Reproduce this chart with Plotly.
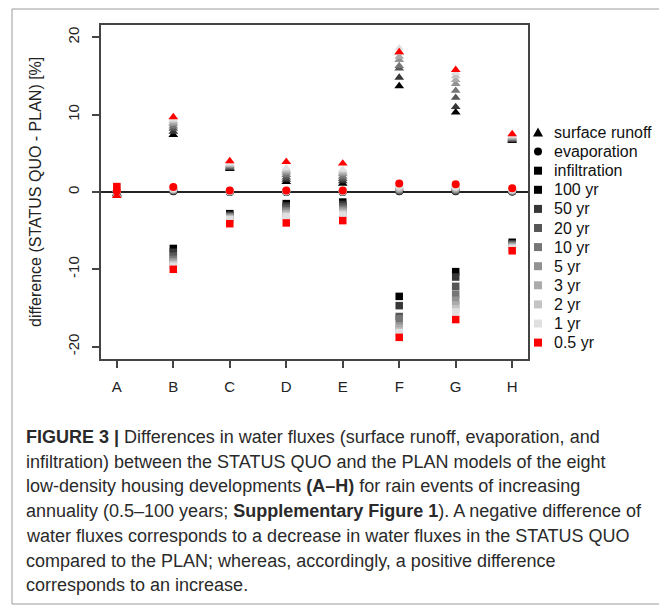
import plotly.graph_objects as go

sites = ["A", "B", "C", "D", "E", "F", "G", "H"]
years = ["100 yr", "50 yr", "20 yr", "10 yr", "5 yr", "3 yr", "2 yr", "1 yr", "0.5 yr"]
year_colors = ["#000000", "#373737", "#575757", "#767676", "#929292",
               "#ababab", "#c4c4c4", "#e0e0e0", "#ff0000"]
y_ticks = [-20, -10, 0, 10, 20]
y_tick_labels = ["-20", "-10", "0", "10", "20"]

# rows follow 'years', columns follow 'sites'
surface_runoff = [
    [-0.2, 7.4, 3.0, 1.3, 1.1, 13.7, 10.3, 6.6],
    [-0.25, 7.8, 3.1, 1.6, 1.4, 14.8, 11.0, 6.7],
    [-0.3, 8.2, 3.2, 1.9, 1.7, 16.0, 12.2, 6.8],
    [-0.3, 8.5, 3.3, 2.2, 2.0, 16.3, 13.1, 6.9],
    [-0.35, 8.8, 3.4, 2.5, 2.3, 17.1, 14.0, 7.0],
    [-0.4, 9.0, 3.5, 2.7, 2.5, 17.5, 14.5, 7.1],
    [-0.4, 9.2, 3.6, 2.9, 2.7, 18.0, 15.0, 7.2],
    [-0.45, 9.4, 3.7, 3.1, 2.9, 18.6, 15.4, 7.3],
    [-0.5, 9.7, 4.0, 3.9, 3.7, 18.1, 15.8, 7.5],
]
evaporation = [
    [0.1, 0.1, 0.0, 0.0, 0.0, 0.1, 0.1, 0.05],
    [0.1, 0.15, 0.02, 0.02, 0.02, 0.15, 0.15, 0.08],
    [0.1, 0.2, 0.04, 0.04, 0.04, 0.2, 0.2, 0.1],
    [0.1, 0.25, 0.06, 0.06, 0.06, 0.3, 0.3, 0.15],
    [0.1, 0.3, 0.08, 0.08, 0.08, 0.4, 0.4, 0.2],
    [0.1, 0.35, 0.1, 0.1, 0.1, 0.5, 0.5, 0.25],
    [0.1, 0.4, 0.12, 0.12, 0.12, 0.6, 0.6, 0.3],
    [0.1, 0.5, 0.15, 0.15, 0.15, 0.8, 0.7, 0.35],
    [0.1, 0.65, 0.2, 0.2, 0.2, 1.1, 1.0, 0.5],
]
infiltration = [
    [0.4, -7.3, -2.8, -1.5, -1.3, -13.5, -10.3, -6.5],
    [0.45, -7.8, -3.0, -1.8, -1.6, -14.7, -11.0, -6.7],
    [0.5, -8.3, -3.1, -2.1, -1.9, -16.1, -12.2, -6.8],
    [0.5, -8.7, -3.2, -2.4, -2.2, -16.4, -13.2, -6.9],
    [0.55, -9.0, -3.3, -2.6, -2.4, -17.3, -14.0, -7.0],
    [0.6, -9.2, -3.4, -2.8, -2.6, -17.6, -14.6, -7.1],
    [0.6, -9.4, -3.5, -3.0, -2.8, -18.0, -15.1, -7.2],
    [0.65, -9.6, -3.6, -3.2, -3.0, -18.2, -15.5, -7.3],
    [0.7, -10.0, -4.1, -4.0, -3.7, -18.8, -16.5, -7.6],
]

caption = [
    "<b>FIGURE 3 |</b> Differences in water fluxes (surface runoff, evaporation, and",
    "infiltration) between the STATUS QUO and the PLAN models of the eight",
    "low-density housing developments <b>(A–H)</b> for rain events of increasing",
    "annuality (0.5–100 years; <b>Supplementary Figure 1</b>). A negative difference of",
    "water fluxes corresponds to a decrease in water fluxes in the STATUS QUO",
    "compared to the PLAN; whereas, accordingly, a positive difference",
    "corresponds to an increase.",
]

# plot box in page pixels (the page body adds an 8px margin)
W, H, OFF = 667, 606, 8
L, R, T, B = 101, 528, 25, 359


def px(x):
    return (x - L) / (R - L)


def py(y):
    return (B - y) / (B - T)


xpos = list(range(1, len(sites) + 1))
fig = go.Figure()

fluxes = [(surface_runoff, "triangle-up", 8.5),
          (evaporation, "circle", 8),
          (infiltration, "square", 7.5)]
for i, yr in enumerate(years):
    for vals, sym, size in fluxes:
        fig.add_trace(go.Scatter(
            x=xpos, y=vals[i], mode="markers", showlegend=False,
            marker=dict(symbol=sym, size=size, color=year_colors[i],
                        line=dict(width=0)),
            cliponaxis=False))

font = "Liberation Sans, Arial, sans-serif"
axis_col = "#444444"

fig.update_layout(
    width=W - OFF, height=H - OFF,
    margin=dict(l=L - OFF, r=W - R, t=T - OFF, b=H - B),
    paper_bgcolor="white", plot_bgcolor="white",
    font=dict(family=font, size=15, color="#222222"),
    showlegend=False,
    xaxis=dict(range=[0.72, 8.28], tickvals=xpos, ticktext=sites,
               showgrid=False, zeroline=False, showline=True, mirror=True,
               linecolor=axis_col, linewidth=1.5, ticks="outside",
               ticklen=7, tickcolor=axis_col, tickwidth=1.5,
               ticklabelstandoff=6,
               tickfont=dict(size=15, color="#222222")),
    yaxis=dict(range=[-21.6, 21.6], tickvals=y_ticks, ticktext=y_tick_labels,
               tickangle=-90, showgrid=False, zeroline=True,
               zerolinecolor="#222222", zerolinewidth=1.5,
               showline=True, mirror=True, linecolor=axis_col, linewidth=1.5,
               ticks="outside", ticklen=7, tickcolor=axis_col, tickwidth=1.5,
               ticklabelstandoff=7,
               tickfont=dict(size=15, color="#222222")),
)

shapes = []
annotations = []

# outer figure frame
shapes.append(dict(type="rect", xref="paper", yref="paper",
                   x0=px(12), x1=px(664), y0=py(604), y1=py(9),
                   line=dict(color="#9a9a9a", width=1)))

# y title
annotations.append(dict(x=px(35), y=py(192), xref="paper", yref="paper",
                        text="difference (STATUS QUO - PLAN) [%]",
                        textangle=-90, showarrow=False,
                        xanchor="center", yanchor="middle",
                        font=dict(size=16, color="#222222")))

# legend
leg_labels = ["surface runoff", "evaporation", "infiltration"] + years
leg_colors = ["#000000"] * 3 + year_colors
leg_syms = ["tri", "circ"] + ["sq"] * 10
y0, step, sx = 132.5, 19.1, 538
for k, lab in enumerate(leg_labels):
    cy = y0 + k * step
    c = leg_colors[k]
    if leg_syms[k] == "tri":
        path = "M {},{} L {},{} L {},{} Z".format(
            px(sx - 5), py(cy + 4), px(sx + 5), py(cy + 4), px(sx), py(cy - 5))
        shapes.append(dict(type="path", xref="paper", yref="paper", path=path,
                           fillcolor=c, line=dict(width=0)))
    elif leg_syms[k] == "circ":
        shapes.append(dict(type="circle", xref="paper", yref="paper",
                           x0=px(sx - 4), x1=px(sx + 4), y0=py(cy + 4), y1=py(cy - 4),
                           fillcolor=c, line=dict(width=0)))
    else:
        shapes.append(dict(type="rect", xref="paper", yref="paper",
                           x0=px(sx - 4), x1=px(sx + 4), y0=py(cy + 4), y1=py(cy - 4),
                           fillcolor=c, line=dict(width=0)))
    annotations.append(dict(x=px(552), y=py(cy), xref="paper", yref="paper",
                            text=lab, xanchor="left", yanchor="middle",
                            showarrow=False,
                            font=dict(size=16, color="#111111")))

# caption
for k, line in enumerate(caption):
    annotations.append(dict(x=px(24), y=py(437 + k * 24.7), xref="paper",
                            yref="paper", text=line, xanchor="left",
                            yanchor="middle", showarrow=False,
                            font=dict(size=18, color="#2a2a2a")))

fig.update_layout(shapes=shapes, annotations=annotations)

fig.write_html("out.html")
